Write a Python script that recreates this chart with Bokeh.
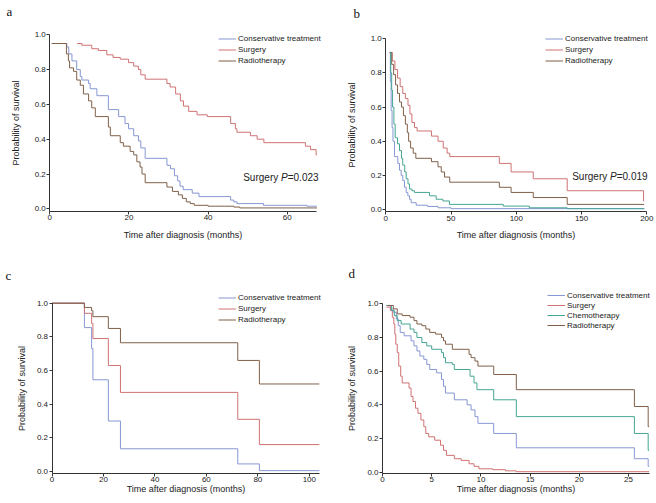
from bokeh.plotting import figure
from bokeh.models import Range1d, FixedTicker, PrintfTickFormatter, Legend, LegendItem, Label
from bokeh.layouts import row, column
from bokeh.embed import file_html
from bokeh.resources import INLINE

FONT = "Liberation Sans"
SERIF = "Liberation Serif"
BLUE = "#8797d3"
RED = "#d07272"
BROWN = "#806049"
TEAL = "#45a593"

# ---------------- data ----------------
legend_labels_abc = ["Conservative treatment", "Surgery", "Radiotherapy"]
legend_labels_d = ["Conservative treatment", "Surgery", "Chemotherapy", "Radiotherapy"]
y_ticks = [0.0, 0.2, 0.4, 0.6, 0.8, 1.0]
a_xticks = [0, 20, 40, 60]
b_xticks = [0, 50, 100, 150, 200]
c_xticks = [0, 20, 40, 60, 80, 100]
d_xticks = [0, 5, 10, 15, 20, 25]

# panel a
a_cons_t = [0.5, 4.3, 4.8, 5.6, 6.8, 7.7, 8.1, 9.8, 10.2, 11.9, 14.8, 17.4, 19.0, 19.9, 21.2, 22.4, 23.0, 24.1,
            29.6, 30.5, 31.5, 32.3, 32.9, 33.7, 36.0, 37.7, 45.7, 46.5, 47.3, 54.0, 65.0, 67.5]
a_cons_s = [0.95, 0.93, 0.89, 0.85, 0.80, 0.76, 0.74, 0.72, 0.69, 0.65, 0.57, 0.53, 0.49, 0.46, 0.42, 0.39, 0.35, 0.29,
            0.25, 0.23, 0.19, 0.16, 0.13, 0.11, 0.09, 0.07, 0.05, 0.04, 0.03, 0.02, 0.015, 0.015]
a_surg_t = [6.9, 8.1, 10.6, 12.3, 14.4, 16.0, 17.8, 19.9, 21.2, 22.4, 23.0, 24.1, 29.6, 30.4, 31.8, 33.0, 33.8, 35.1,
            37.2, 39.8, 45.7, 46.9, 47.3, 50.7, 52.4, 54.1, 64.6, 65.9, 67.3, 67.5]
a_surg_s = [0.95, 0.94, 0.92, 0.91, 0.885, 0.87, 0.86, 0.84, 0.82, 0.80, 0.77, 0.745, 0.72, 0.70, 0.66, 0.62, 0.59, 0.56,
            0.54, 0.53, 0.49, 0.46, 0.44, 0.42, 0.40, 0.38, 0.36, 0.34, 0.31, 0.31]
a_radio_t = [0.5, 4.2, 4.7, 5.0, 6.0, 6.8, 7.7, 8.5, 9.8, 10.6, 11.5, 14.8, 15.3, 17.8, 18.6, 20.3, 21.2, 22.0, 22.8,
             23.3, 24.1, 29.6, 31.0, 32.5, 33.5, 34.5, 35.5, 36.5, 40.0, 46.5, 48.0, 67.5]
a_radio_s = [0.95, 0.89, 0.85, 0.81, 0.79, 0.74, 0.71, 0.66, 0.62, 0.58, 0.53, 0.47, 0.42, 0.38, 0.36, 0.33, 0.31, 0.27,
             0.24, 0.20, 0.15, 0.125, 0.10, 0.08, 0.06, 0.04, 0.03, 0.02, 0.015, 0.01, 0.005, 0.005]

# panel b
b_cons_t = [3, 3.5, 4.1, 4.8, 5.5, 6.7, 9.2, 10.5, 11.8, 13, 14.3, 15.6, 16.9, 18.2, 19.4, 23.3, 32, 40, 50, 198]
b_cons_s = [0.92, 0.75, 0.58, 0.48, 0.40, 0.31, 0.27, 0.23, 0.20, 0.17, 0.13, 0.10, 0.08, 0.06, 0.04, 0.025, 0.018,
            0.01, 0.005, 0.003]
b_surg_t = [3, 5, 7, 9, 11, 13, 15, 17, 18.5, 20, 22, 24, 35, 40, 44, 47, 49, 87, 96, 113, 139, 197.5, 198]
b_surg_s = [0.92, 0.87, 0.82, 0.77, 0.72, 0.68, 0.65, 0.61, 0.56, 0.51, 0.48, 0.46, 0.43, 0.40, 0.36, 0.33, 0.31, 0.27,
            0.22, 0.18, 0.11, 0.05, 0.05]
b_chemo_t = [3, 3.8, 4.5, 5.2, 6.2, 7.2, 9, 10.5, 12, 13, 14.5, 15.6, 17, 18.2, 20, 22, 33.5, 38.6, 43.7, 48.8, 90, 110,
             139, 198]
b_chemo_s = [0.92, 0.80, 0.70, 0.60, 0.50, 0.42, 0.385, 0.345, 0.30, 0.26, 0.22, 0.18, 0.15, 0.12, 0.11, 0.10, 0.08,
             0.06, 0.05, 0.03, 0.02, 0.01, 0.005, 0.005]
b_radio_t = [3, 4.5, 6, 7.5, 9, 10.5, 12, 13.5, 15, 16.5, 17.5, 19, 21, 23, 35, 40, 42.5, 45, 49, 87, 96, 113, 139, 198]
b_radio_s = [0.92, 0.85, 0.79, 0.73, 0.68, 0.63, 0.60, 0.55, 0.50, 0.45, 0.40, 0.36, 0.33, 0.30, 0.28, 0.25, 0.22,
             0.19, 0.16, 0.13, 0.10, 0.07, 0.03, 0.03]

# panel c
c_cons_t = [0, 12.6, 15.4, 15.9, 21.9, 26.6, 72.2, 80.6, 103.9]
c_cons_s = [1.0, 0.855, 0.73, 0.545, 0.30, 0.135, 0.045, 0.005, 0.005]
c_surg_t = [0, 12.6, 15.4, 15.9, 21.9, 26.6, 72.2, 80.6, 103.9]
c_surg_s = [1.0, 0.94, 0.88, 0.79, 0.63, 0.47, 0.31, 0.16, 0.16]
c_radio_t = [0, 12.6, 15.4, 15.9, 21.9, 26.6, 72.2, 80.6, 103.9]
c_radio_s = [1.0, 0.975, 0.955, 0.92, 0.85, 0.765, 0.66, 0.52, 0.52]

# panel d
d_cons_t = [0.4, 0.8, 1.1, 1.4, 1.6, 1.8, 2.2, 2.9, 3.2, 3.5, 3.8, 4.2, 4.5, 4.8, 5.5, 6.0, 6.2, 6.4, 7.3, 8.6, 9.0,
            9.4, 9.7, 11.3, 13.6, 25.6, 27.0, 27.1]
d_cons_s = [0.99, 0.97, 0.95, 0.91, 0.87, 0.83, 0.81, 0.78, 0.75, 0.72, 0.69, 0.67, 0.64, 0.61, 0.59, 0.55, 0.51, 0.47,
            0.43, 0.40, 0.37, 0.33, 0.29, 0.23, 0.145, 0.08, 0.035, 0.035]
d_surg_t = [0.4, 0.8, 1.0, 1.15, 1.25, 1.35, 1.5, 1.65, 1.85, 2.0, 2.7, 2.9, 3.1, 3.35, 3.6, 3.9, 4.2, 4.4, 4.7, 5.3,
            5.9, 6.2, 6.5, 7.3, 8.0, 8.8, 9.3, 9.8, 11.2, 12.5, 13.6, 27.1]
d_surg_s = [0.98, 0.96, 0.92, 0.88, 0.82, 0.76, 0.71, 0.63, 0.57, 0.53, 0.50, 0.45, 0.42, 0.38, 0.35, 0.31, 0.27, 0.23,
            0.21, 0.19, 0.16, 0.13, 0.10, 0.08, 0.07, 0.05, 0.035, 0.02, 0.015, 0.008, 0.003, 0.003]
d_chemo_t = [0.4, 0.9, 1.2, 1.5, 1.9, 2.8, 3.2, 3.5, 4.0, 4.5, 5.0, 6.0, 6.2, 6.4, 7.1, 7.3, 8.9, 9.3, 9.6, 11.3, 13.6,
             25.6, 27.0, 27.1]
d_chemo_s = [0.99, 0.96, 0.93, 0.90, 0.88, 0.85, 0.83, 0.80, 0.77, 0.75, 0.73, 0.71, 0.68, 0.65, 0.64, 0.61, 0.57, 0.53,
             0.49, 0.43, 0.33, 0.23, 0.13, 0.13]
d_radio_t = [0.5, 1.1, 1.5, 2.0, 2.8, 3.2, 3.5, 4.0, 4.4, 4.8, 5.4, 6.0, 6.2, 6.4, 7.1, 8.8, 9.0, 9.4, 9.7, 11.3, 13.6,
             25.6, 27.0, 27.1]
d_radio_s = [0.99, 0.97, 0.94, 0.93, 0.92, 0.90, 0.88, 0.87, 0.85, 0.83, 0.82, 0.80, 0.78, 0.76, 0.73, 0.70, 0.68, 0.66,
             0.63, 0.58, 0.49, 0.39, 0.27, 0.27]


def make_fig(w, h, x0_px, x_per_px, y1_px, y0_px, axis_px, x_bound, xticks, ylab_standoff, xlab_standoff):
    """Frame fills the whole figure; axes sit at fixed data locations, bounded."""
    upx = 1.0 / (y0_px - y1_px)          # data units per pixel (y)
    x_start = -x0_px * x_per_px
    x_end = (w - x0_px) * x_per_px
    y_end = 1.0 + y1_px * upx
    y_start = -(h - y0_px) * upx
    y_axis_at = -(axis_px - y0_px) * upx
    p = figure(width=w, height=h, output_backend="svg", toolbar_location=None, title=None,
               x_range=Range1d(x_start, x_end), y_range=Range1d(y_start, y_end),
               min_border=0, min_border_left=0, min_border_right=0,
               min_border_top=0, min_border_bottom=0)
    p.outline_line_color = None
    p.grid.visible = False
    p.background_fill_color = "white"
    p.border_fill_color = "white"
    p.xaxis.ticker = FixedTicker(ticks=xticks)
    p.yaxis.ticker = FixedTicker(ticks=y_ticks)
    p.yaxis.formatter = PrintfTickFormatter(format="%.1f")
    p.xaxis.fixed_location = y_axis_at
    p.yaxis.fixed_location = 0
    p.xaxis.bounds = (0, x_bound)
    p.yaxis.bounds = (y_axis_at, 1.0)
    for ax in (p.xaxis[0], p.yaxis[0]):
        ax.axis_line_color = "#333333"
        ax.axis_line_width = 1
        ax.major_tick_line_color = "#333333"
        ax.minor_tick_line_color = None
        ax.major_tick_out = 3
        ax.major_tick_in = 0
        ax.major_label_standoff = 1
        ax.major_label_text_font = FONT
        ax.major_label_text_font_size = "8px"
        ax.major_label_text_color = "#222222"
        ax.axis_label_text_font = FONT
        ax.axis_label_text_font_size = "9px"
        ax.axis_label_text_font_style = "normal"
        ax.axis_label_text_color = "#222222"
    p.xaxis.axis_label = "Time after diagnosis (months)"
    p.yaxis.axis_label = "Probability of survival"
    p.yaxis.axis_label_standoff = ylab_standoff
    p.xaxis.axis_label_standoff = xlab_standoff
    return p


def add_curves(p, series, labels, legend_xy, row_h):
    rs = []
    for t, s, c in series:
        rs.append(p.step(x=t, y=s, mode="after", line_color=c, line_width=1))
    items = [LegendItem(label=lab, renderers=[rs[i]]) for i, lab in enumerate(labels)]
    leg = Legend(items=items, location=legend_xy, glyph_width=18, glyph_height=row_h, label_height=row_h,
                 label_standoff=2, spacing=0, padding=0, margin=0,
                 label_text_font=FONT, label_text_font_size="8px", label_text_color="#222222",
                 background_fill_alpha=0, border_line_alpha=0)
    p.add_layout(leg)


def add_letter(p, txt, x, y):
    p.add_layout(Label(x=x, y=y, x_units="screen", y_units="screen", text=txt, text_font=SERIF,
                       text_font_size="13px", text_baseline="alphabetic", text_color="#111111"))


def add_pvalue(p, pval, x0, y):
    common = dict(y=y, x_units="screen", y_units="screen", text_font=FONT, text_font_size="10px",
                  text_baseline="middle", text_color="#222222")
    p.add_layout(Label(x=x0, text="Surgery", **common))
    p.add_layout(Label(x=x0 + 37.8, text="P", text_font_style="italic", **common))
    p.add_layout(Label(x=x0 + 44.5, text="=" + pval, **common))


# panel a  (figure at page 0,0)
pa = make_fig(328, 250, 49.3, 1 / 3.957, 34.3, 208.3, 210.7, 67.5, a_xticks, 10, 6)
add_curves(pa, [(a_cons_t, a_cons_s, BLUE), (a_surg_t, a_surg_s, RED), (a_radio_t, a_radio_s, BROWN)],
           legend_labels_abc, (218, 184.5), 11)
add_letter(pa, "a", 6, 239)
add_pvalue(pa, "0.023", 242.7, 73)

# panel b  (figure at page 328,0)
pb = make_fig(328, 250, 57.3, 1 / 1.305, 38.3, 209.0, 211.3, 200, b_xticks, 10, 6)
add_curves(pb, [(b_cons_t, b_cons_s, BLUE), (b_surg_t, b_surg_s, RED), (b_radio_t, b_radio_s, BROWN),
                (b_chemo_t, b_chemo_s, TEAL)],
           legend_labels_abc, (217, 184.5), 11)
add_letter(pb, "b", 25, 237.5)
add_pvalue(pb, "0.019", 243.7, 74)

# panel c  (figure at page 0,250)
pc = make_fig(328, 253, 51.5, 1 / 2.573, 52.7, 221.0, 222.7, 103.9, c_xticks, 7, -2)
add_curves(pc, [(c_cons_t, c_cons_s, BLUE), (c_surg_t, c_surg_s, RED), (c_radio_t, c_radio_s, BROWN)],
           legend_labels_abc, (218, 177.8), 11)
add_letter(pc, "c", 5, 228)

# panel d  (figure at page 328,250)
pd_ = make_fig(328, 253, 54.0, 1 / 9.84, 53.3, 221.7, 222.7, 27.1, d_xticks, 7, -2)
add_curves(pd_, [(d_cons_t, d_cons_s, BLUE), (d_surg_t, d_surg_s, RED), (d_chemo_t, d_chemo_s, TEAL),
                 (d_radio_t, d_radio_s, BROWN)],
           legend_labels_d, (219, 173), 10)
add_letter(pd_, "d", 20, 230.5)

layout = column(row(pa, pb), row(pc, pd_))
open("out.html", "w").write(file_html(layout, INLINE))
